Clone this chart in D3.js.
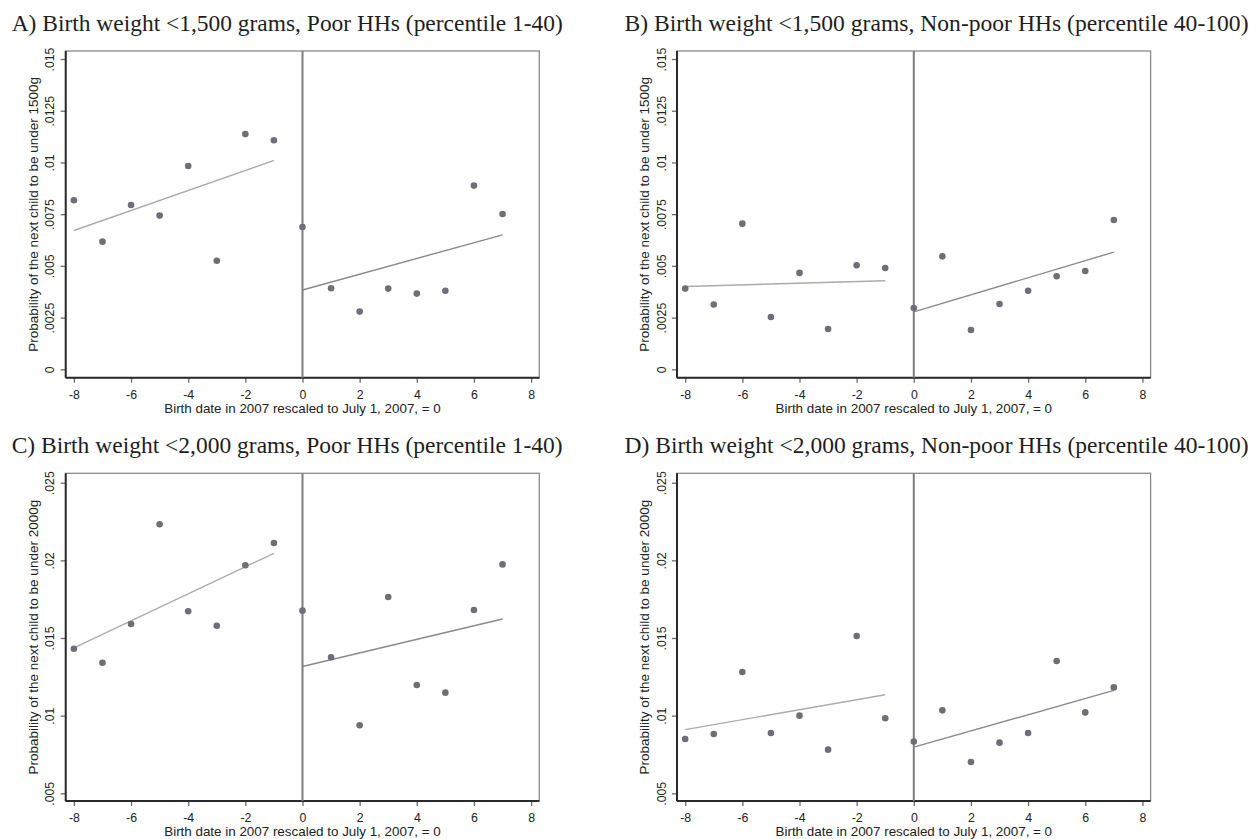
<!DOCTYPE html>
<html><head><meta charset="utf-8">
<script src="https://cdn.jsdelivr.net/npm/d3@7"></script>
<style>body{margin:0;background:#fff} svg{display:block}</style>
</head><body><svg id="chart" width="1258" height="839"></svg>
<script>
// ---- data ----
const birthDates = [-8,-7,-6,-5,-4,-3,-2,-1,0,1,2,3,4,5,6,7];
const probPoor1500    = [0.00817,0.00617,0.00794,0.00743,0.00983,0.00525,0.01137,0.01107,0.00688,0.00392,0.00279,0.00390,0.00366,0.00380,0.00888,0.00751];
const probNonpoor1500 = [0.00390,0.00313,0.00704,0.00253,0.00466,0.00195,0.00503,0.00490,0.00296,0.00546,0.00190,0.00316,0.00380,0.00450,0.00475,0.00722];
const probPoor2000    = [0.01431,0.01341,0.01590,0.02232,0.01672,0.01579,0.01968,0.02112,0.01676,0.01376,0.00938,0.01764,0.01197,0.01148,0.01680,0.01974];
const probNonpoor2000 = [0.00850,0.00882,0.01281,0.00888,0.01000,0.00781,0.01513,0.00983,0.00833,0.01034,0.00702,0.00826,0.00888,0.01352,0.01021,0.01182];
const xTicks = [-8,-6,-4,-2,0,2,4,6,8];
const xLabels = ["-8","-6","-4","-2","0","2","4","6","8"];
const yTicks1500 = [0,0.0025,0.005,0.0075,0.01,0.0125,0.015];
const yLabels1500 = ["0",".0025",".005",".0075",".01",".0125",".015"];
const yTicks2000 = [0.005,0.01,0.015,0.02,0.025];
const yLabels2000 = [".005",".01",".015",".02",".025"];
const panelTitles = [
  "A) Birth weight <1,500 grams, Poor HHs (percentile 1-40)",
  "B) Birth weight <1,500 grams, Non-poor HHs (percentile 40-100)",
  "C) Birth weight <2,000 grams, Poor HHs (percentile 1-40)",
  "D) Birth weight <2,000 grams, Non-poor HHs (percentile 40-100)"
];
const yTitles = [
  "Probability of the next child to be under 1500g",
  "Probability of the next child to be under 2000g"
];
const xTitle = "Birth date in 2007 rescaled to July 1, 2007, = 0";

// ---- layout ----
const colLeft = [65.7, 677.0];
const rowTop = [51, 473.3];
const frameW = 473.6;
const rowH = [326.7, 327.7];
const titleX = [11.7, 624.5];
const titleLen = [551, 624];
const yDomains = [[-0.000406, 0.015387],[0.004504, 0.025605]];

const panels = [
  {t:0, vals:probPoor1500,    ticks:yTicks1500, labels:yLabels1500, yt:0, col:0, row:0},
  {t:1, vals:probNonpoor1500, ticks:yTicks1500, labels:yLabels1500, yt:0, col:1, row:0},
  {t:2, vals:probPoor2000,    ticks:yTicks2000, labels:yLabels2000, yt:1, col:0, row:1},
  {t:3, vals:probNonpoor2000, ticks:yTicks2000, labels:yLabels2000, yt:1, col:1, row:1}
];

const svg = d3.select('#chart');
const sans = "'Liberation Sans', Arial, Helvetica, sans-serif";
const serif = "'Liberation Serif', 'Times New Roman', serif";

function ols(xs, ys){
  const n = xs.length, mx = d3.mean(xs), my = d3.mean(ys);
  let sxy=0, sxx=0;
  for(let i=0;i<n;i++){ sxy += (xs[i]-mx)*(ys[i]-my); sxx += (xs[i]-mx)**2; }
  const b = sxy/sxx; return {a: my - b*mx, b};
}

panels.forEach(p => {
  const left = colLeft[p.col], top = rowTop[p.row], h = rowH[p.row];
  const x = d3.scaleLinear().domain([-8.287, 8.287]).range([left, left+frameW]);
  const y = d3.scaleLinear().domain(yDomains[p.row]).range([top+h, top]);
  const g = svg.append('g');

  // title
  g.append('text').attr('x', titleX[p.col]).attr('y', top-20.5)
    .attr('font-family', serif).attr('font-size', 23).attr('fill', '#1e1e1e')
    .attr('textLength', titleLen[p.col]).attr('lengthAdjust','spacingAndGlyphs')
    .text(panelTitles[p.t]);

  // frame
  g.append('rect').attr('x', left).attr('y', top).attr('width', frameW).attr('height', h)
    .attr('fill','none').attr('stroke','#8a8a8a').attr('stroke-width',1.3);

  // y axis
  const ya = g.append('g').attr('transform', `translate(${left},0)`)
    .call(d3.axisLeft(y).tickValues(p.ticks).tickFormat((d,i)=>p.labels[i]).tickSize(5));
  ya.select('.domain').remove();
  ya.selectAll('.tick line').attr('stroke','#6a6a6a').attr('stroke-width',1.3);
  ya.selectAll('.tick text').attr('x',0).attr('y',0).attr('dy',null)
    .attr('text-anchor','middle').attr('transform','translate(-11.4,0) rotate(-90)')
    .attr('font-family', sans).attr('font-size',12.3).attr('fill','#222');

  // x axis
  const xa = g.append('g').attr('transform', `translate(0,${top+h})`)
    .call(d3.axisBottom(x).tickValues(xTicks).tickFormat((d,i)=>xLabels[i]).tickSize(5));
  xa.select('.domain').remove();
  xa.selectAll('.tick line').attr('stroke','#6a6a6a').attr('stroke-width',1.3);
  xa.selectAll('.tick text').attr('y',21.3).attr('dy',null)
    .attr('font-family', sans).attr('font-size',12.3).attr('fill','#222');

  // dark left & bottom axis lines
  g.append('line').attr('x1',left).attr('x2',left).attr('y1',top).attr('y2',top+h)
    .attr('stroke','#2a2a2a').attr('stroke-width',2);
  g.append('line').attr('x1',left).attr('x2',left+frameW).attr('y1',top+h).attr('y2',top+h)
    .attr('stroke','#2a2a2a').attr('stroke-width',2);

  // axis titles
  g.append('text').attr('transform', `translate(${left-28.2},${top+h/2}) rotate(-90)`)
    .attr('text-anchor','middle').attr('font-family', sans).attr('font-size',13.5).attr('fill','#222')
    .text(yTitles[p.yt]);
  g.append('text').attr('x', left+frameW/2).attr('y', top+h+35)
    .attr('text-anchor','middle').attr('font-family', sans).attr('font-size',13.4).attr('fill','#222')
    .text(xTitle);

  // cutoff line at 0
  g.append('line').attr('x1', x(0)).attr('x2', x(0)).attr('y1', top).attr('y2', top+h)
    .attr('stroke','#7d7d7d').attr('stroke-width',2);

  // fitted lines
  const segs = [
    {f: d => d < 0, color:'#ababab'},
    {f: d => d >= 0, color:'#8a8a8a'}
  ];
  segs.forEach(s => {
    const idx = birthDates.map((d,i)=>i).filter(i => s.f(birthDates[i]));
    const xs = idx.map(i=>birthDates[i]), ys = idx.map(i=>p.vals[i]);
    const fit = ols(xs, ys);
    const x0 = d3.min(xs), x1 = d3.max(xs);
    g.append('line').attr('x1', x(x0)).attr('y1', y(fit.a+fit.b*x0))
      .attr('x2', x(x1)).attr('y2', y(fit.a+fit.b*x1))
      .attr('stroke', s.color).attr('stroke-width',1.4);
  });

  // points
  g.selectAll('circle.pt').data(birthDates.map((d,i)=>({d, v:p.vals[i]})))
    .enter().append('circle').attr('class','pt')
    .attr('cx', d=>x(d.d)).attr('cy', d=>y(d.v)).attr('r',3.3)
    .attr('fill','#6e6e76');
});
</script>
</body></html>
